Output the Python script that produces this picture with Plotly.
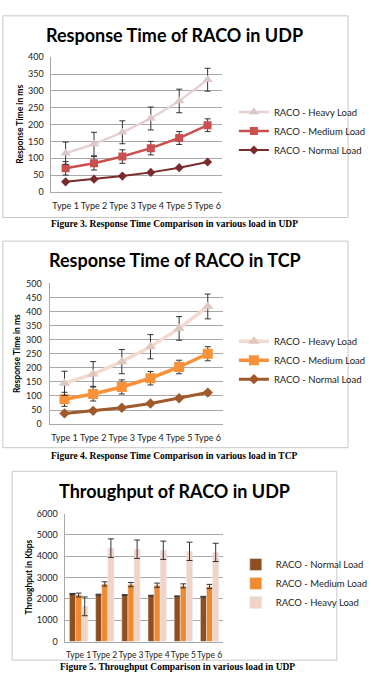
import plotly.graph_objects as go

W, H = 373, 677

def px(x):
    return x / W

def py(y):
    return 1 - y / H

categories = ["Type 1", "Type 2", "Type 3", "Type 4", "Type 5", "Type 6"]

# Chart 1: Response time UDP (ms)
udp_normal = [30, 38, 47, 58, 72, 89]
udp_medium = [70, 85, 105, 130, 160, 198]
udp_heavy = [115, 142, 177, 218, 270, 333]
udp_medium_err = [20, 20, 20, 20, 19, 19]
udp_heavy_err = [33, 35, 34, 34, 35, 34]

# Chart 2: Response time TCP (ms)
tcp_normal = [38, 47, 58, 73, 92, 112]
tcp_medium = [88, 107, 132, 163, 203, 250]
tcp_heavy = [145, 178, 222, 275, 340, 418]
tcp_medium_err = [25, 25, 25, 24, 24, 25]
tcp_heavy_err = [43, 44, 43, 43, 42, 44]

# Chart 3: Throughput UDP (Kbps)
thr_normal = [2230, 2200, 2180, 2150, 2120, 2100]
thr_medium = [2180, 2700, 2670, 2640, 2610, 2580]
thr_heavy = [1650, 4380, 4330, 4280, 4230, 4180]
thr_normal_err = [25, 20, 20, 20, 20, 20]
thr_medium_err = [90, 100, 100, 100, 95, 100]
thr_heavy_err = [440, 435, 430, 430, 430, 430]

names = ["RACO - Normal Load", "RACO - Medium Load", "RACO - Heavy Load"]

FONT = "Lato"
EB = dict(type="data", color="#333333", thickness=1, width=3, visible=True)

fig = go.Figure()

# ---------- Chart 1 ----------
fig.add_trace(go.Scatter(x=categories, y=udp_normal, name=names[0], mode="lines+markers",
                         line=dict(color="#7B2B2B", width=2),
                         marker=dict(symbol="diamond", size=7, color="#7B2B2B"),
                         xaxis="x", yaxis="y", legend="legend", legendrank=3))
fig.add_trace(go.Scatter(x=categories, y=udp_medium, name=names[1], mode="lines+markers",
                         line=dict(color="#C9504F", width=2.5),
                         marker=dict(symbol="square", size=8, color="#C9504F"),
                         error_y=dict(array=udp_medium_err, **EB),
                         xaxis="x", yaxis="y", legend="legend", legendrank=2))
fig.add_trace(go.Scatter(x=categories, y=udp_heavy, name=names[2], mode="lines+markers",
                         line=dict(color="#E6D2D2", width=2.5),
                         marker=dict(symbol="triangle-up", size=9, color="#DCC6C6"),
                         error_y=dict(array=udp_heavy_err, **EB),
                         xaxis="x", yaxis="y", legend="legend", legendrank=1))

# ---------- Chart 2 ----------
fig.add_trace(go.Scatter(x=categories, y=tcp_normal, name=names[0], mode="lines+markers",
                         line=dict(color="#A0592A", width=3),
                         marker=dict(symbol="diamond", size=8, color="#A0592A"),
                         xaxis="x2", yaxis="y2", legend="legend2", legendrank=3))
fig.add_trace(go.Scatter(x=categories, y=tcp_medium, name=names[1], mode="lines+markers",
                         line=dict(color="#F7923A", width=3.5),
                         marker=dict(symbol="square", size=10, color="#F7923A"),
                         error_y=dict(array=tcp_medium_err, **EB),
                         xaxis="x2", yaxis="y2", legend="legend2", legendrank=2))
fig.add_trace(go.Scatter(x=categories, y=tcp_heavy, name=names[2], mode="lines+markers",
                         line=dict(color="#F3DACE", width=3.5),
                         marker=dict(symbol="triangle-up", size=10, color="#DFC8BE"),
                         error_y=dict(array=tcp_heavy_err, **EB),
                         xaxis="x2", yaxis="y2", legend="legend2", legendrank=1))

# ---------- Chart 3 ----------
fig.add_trace(go.Bar(x=categories, y=thr_normal, name=names[0], marker_color="#8F4E1F",
                     error_y=dict(array=thr_normal_err, **EB),
                     xaxis="x3", yaxis="y3", legend="legend3", legendrank=1))
fig.add_trace(go.Bar(x=categories, y=thr_medium, name=names[1], marker_color="#EF8A2E",
                     error_y=dict(array=thr_medium_err, **EB),
                     xaxis="x3", yaxis="y3", legend="legend3", legendrank=2))
fig.add_trace(go.Bar(x=categories, y=thr_heavy, name=names[2], marker_color="#F2D3C6",
                     error_y=dict(array=thr_heavy_err, **EB),
                     xaxis="x3", yaxis="y3", legend="legend3", legendrank=3))

tickfont = dict(family=FONT, size=9, color="#222222")
grid = "#A8A8A8"

def xax(x0, x1, anchor, fsize=9):
    return dict(domain=[px(x0), px(x1)], anchor=anchor, type="category",
                showgrid=False, showline=True, linecolor=grid, linewidth=1,
                ticks="", tickangle=0, tickfont=dict(tickfont, size=fsize),
                ticklabelstandoff=5, fixedrange=True)

def yax(y0, y1, anchor, rng, dtick):
    return dict(domain=[py(y1), py(y0)], anchor=anchor, range=rng, dtick=dtick,
                showgrid=True, gridcolor=grid, gridwidth=1, showline=True,
                linecolor=grid, linewidth=1, zeroline=False, ticks="",
                tickfont=tickfont, ticklabelstandoff=5, fixedrange=True)

legfont = dict(family=FONT, size=9.5, color="#222222")

def leg(x, y):
    return dict(x=px(x), y=py(y), xanchor="left", yanchor="middle",
                font=legfont, bgcolor="rgba(0,0,0,0)", traceorder="normal",
                itemwidth=30, tracegroupgap=0)

annotations = []

def title(text, x, y):
    annotations.append(dict(text="<b>" + text + "</b>", x=px(x), y=py(y), xref="paper", yref="paper",
                            showarrow=False, xanchor="center", yanchor="middle",
                            font=dict(family=FONT, size=18, color="#000000")))

def ytitle(text, x, y):
    annotations.append(dict(text="<b>" + text + "</b>", x=px(x), y=py(y), xref="paper", yref="paper",
                            showarrow=False, xanchor="center", yanchor="middle", textangle=-90,
                            font=dict(family=FONT, size=8.5, color="#000000")))

def caption(text, x, y):
    annotations.append(dict(text="<b>" + text + "</b>", x=px(x), y=py(y), xref="paper", yref="paper",
                            showarrow=False, xanchor="center", yanchor="middle",
                            font=dict(family="Liberation Serif", size=9.5, color="#000000")))

title("Response Time of RACO in UDP", 187, 29)
title("Response Time of RACO in TCP", 187, 258)
title("Throughput of RACO in UDP", 186, 493)
ytitle("Response Time in ms", 21, 120)
ytitle("Response Time in ms", 18, 353)
ytitle("Throughput in Kbps", 31, 581)
caption("Figure 3. Response Time Comparison in various load in UDP", 187, 222)
caption("Figure 4. Response Time Comparison in various load in TCP", 187, 457)
caption("Figure 5. Throughput Comparison in various load in UDP", 190, 671.5)

def box(x0, y0, x1, y1):
    return dict(type="rect", xref="paper", yref="paper", x0=px(x0), x1=px(x1), y0=py(y1), y1=py(y0),
                line=dict(color="#C8C8C8", width=1), fillcolor="rgba(0,0,0,0)", layer="below")

fig.update_layout(
    width=W, height=H, margin=dict(l=0, r=0, t=0, b=0),
    paper_bgcolor="white", plot_bgcolor="white",
    xaxis=xax(55, 237, "y"), yaxis=yax(52, 189, "x", [0, 400], 50),
    xaxis2=xax(53, 238, "y2"), yaxis2=yax(282, 425, "x2", [0, 500], 50),
    xaxis3=xax(70, 238, "y3", 8.5), yaxis3=yax(516, 646, "x3", [0, 6000], 1000),
    legend=leg(250, 127), legend2=leg(250, 360), legend3=leg(252, 587),
    barmode="group", bargap=0.3, bargroupgap=0.0,
    annotations=annotations,
    shapes=[box(3, 10, 372, 215), box(3, 239, 372, 449), box(13, 473, 360, 665)],
    showlegend=True,
)

fig.write_html("out.html")
